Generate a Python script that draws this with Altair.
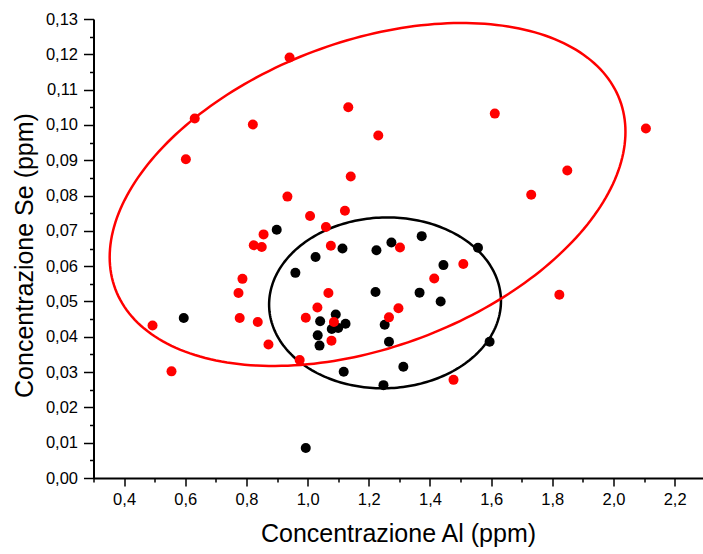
import numpy as np
import pandas as pd
import altair as alt

# --- data -------------------------------------------------------------------
red_al = [0.941, 0.631, 0.821, 1.133, 1.231, 0.602, 1.141, 0.934, 1.008, 1.122,
          1.060, 0.856, 0.824, 0.850, 1.076, 1.302, 1.612, 2.106, 1.849, 1.731,
          0.787, 0.774, 1.068, 1.032, 1.297, 1.266, 0.994, 0.778, 0.493, 0.837,
          1.086, 1.078, 0.872, 0.974, 0.555, 1.509, 1.414, 1.823, 1.477]
red_se = [0.1191, 0.1018, 0.1001, 0.1050, 0.0970, 0.0903, 0.0854, 0.0797, 0.0742, 0.0757,
          0.0711, 0.0690, 0.0659, 0.0654, 0.0658, 0.0653, 0.1032, 0.0990, 0.0871, 0.0802,
          0.0564, 0.0524, 0.0524, 0.0483, 0.0481, 0.0455, 0.0454, 0.0453, 0.0432, 0.0442,
          0.0442, 0.0389, 0.0378, 0.0334, 0.0302, 0.0606, 0.0565, 0.0519, 0.0278]

black_al = [0.899, 1.114, 1.225, 1.274, 1.373, 1.557, 1.026, 0.960, 1.222, 1.092,
            0.595, 1.041, 1.124, 1.079, 1.100, 1.252, 1.033, 1.266, 1.039, 1.118,
            1.313, 1.248, 0.994, 1.444, 1.366, 1.435, 1.595]
black_se = [0.0703, 0.0650, 0.0645, 0.0667, 0.0685, 0.0652, 0.0626, 0.0581, 0.0527, 0.0463,
            0.0453, 0.0444, 0.0437, 0.0422, 0.0425, 0.0434, 0.0404, 0.0386, 0.0375, 0.0301,
            0.0315, 0.0263, 0.0085, 0.0603, 0.0525, 0.0500, 0.0386]

# confidence ellipses: centre (Al, Se), spreads (Al, Se), correlation
red_ellipse = [1.196, 0.0803, 0.8431, 0.04857, 0.3656]
black_ellipse = [1.2531, 0.0496, 0.379, 0.0242, 0.02]

x_ticks = [round(0.3 + 0.1 * i, 2) for i in range(20)]
y_ticks = [round(0.005 * i, 3) for i in range(27)]


def ellipse_df(p, n=241):
    cx, cy, sx, sy, r = p
    t = np.linspace(0, 2 * np.pi, n)
    return pd.DataFrame({
        "al": cx + sx * np.cos(t),
        "se": cy + sy * (r * np.cos(t) + np.sqrt(1 - r * r) * np.sin(t)),
        "k": np.arange(n),
    })


red_pts = pd.DataFrame({"al": red_al, "se": red_se})
black_pts = pd.DataFrame({"al": black_al, "se": black_se})

FONT = "Liberation Sans"

x_enc = alt.X(
    "al:Q",
    scale=alt.Scale(domain=[0.3, 2.291], nice=False, zero=False),
    axis=alt.Axis(
        values=x_ticks,
        title="Concentrazione Al (ppm)",
        labelExpr="round(datum.value*10) % 2 == 0 ? replace(format(datum.value, '.1f'), '.', ',') : ''",
        tickSize={"condition": {"test": "round(datum.value*10) % 2 == 0", "value": 8}, "value": 4},
        grid=False, labelOverlap=False, labelFlush=False, labelBound=False,
        domainColor="black", domainWidth=2, tickColor="black", tickWidth=1.5,
        labelColor="black", labelFont=FONT, labelFontSize=16.5, labelPadding=5,
        titleColor="black", titleFont=FONT, titleFontSize=25, titleFontWeight="normal",
        titlePadding=14,
    ),
)
y_enc = alt.Y(
    "se:Q",
    scale=alt.Scale(domain=[0, 0.13], nice=False, zero=False),
    axis=alt.Axis(
        values=y_ticks,
        title="Concentrazione Se (ppm)",
        labelExpr="round(datum.value*1000) % 10 == 0 ? replace(format(datum.value, '.2f'), '.', ',') : ''",
        tickSize={"condition": {"test": "round(datum.value*1000) % 10 == 0", "value": 10}, "value": 4},
        grid=False, labelOverlap=False, labelFlush=False, labelBound=False,
        domainColor="black", domainWidth=2, tickColor="black", tickWidth=1.5,
        labelColor="black", labelFont=FONT, labelFontSize=16.5, labelPadding=6,
        titleColor="black", titleFont=FONT, titleFontSize=25, titleFontWeight="normal",
        titlePadding=8, titleY=236,
    ),
)

black_line = alt.Chart(ellipse_df(black_ellipse)).mark_line(
    color="black", strokeWidth=2.5
).encode(x=x_enc, y=y_enc, order="k:Q")
red_line = alt.Chart(ellipse_df(red_ellipse)).mark_line(
    color="#ff0000", strokeWidth=2.5
).encode(x=x_enc, y=y_enc, order="k:Q")
black_dots = alt.Chart(black_pts).mark_circle(
    color="black", size=100, opacity=1
).encode(x=x_enc, y=y_enc)
red_dots = alt.Chart(red_pts).mark_circle(
    color="#ff0000", size=100, opacity=1
).encode(x=x_enc, y=y_enc)

chart = alt.layer(black_line, red_line, black_dots, red_dots).properties(
    width=609,
    height=459,
    autosize=alt.AutoSizeParams(type="none"),
    padding={"left": 93.5, "top": 19, "right": 0, "bottom": 76},
    background="white",
).configure_view(stroke=None)

chart.save("out.html", embed_options={"renderer": "svg", "actions": False})
